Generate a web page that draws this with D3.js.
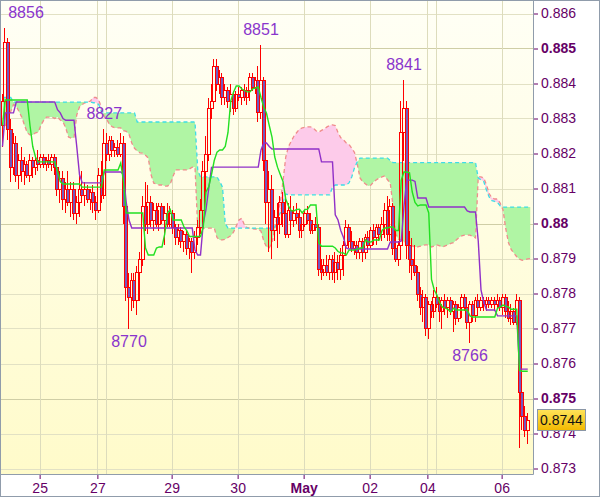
<!DOCTYPE html>
<html><head><meta charset="utf-8">
<script src="https://cdn.jsdelivr.net/npm/d3@7"></script>
<style>html,body{margin:0;padding:0;background:#fff;}svg{display:block;}</style>
</head><body>
<svg id="c" width="600" height="497"></svg>
<script>
// prices in pips (8856 = 0.8856), one entry per hourly candle
const opens = [
8828,8835,8852,8827,8816,8823,8814,8818,8815,8817,
8814,8818,8816,8818,8817,8819,8817,8818,8817,8819,
8816,8810,8813,8807,8810,8806,8810,8803,8806,8810,
8808,8810,8807,8809,8806,8804,8814,8808,8823,8820,
8824,8821,8822,8820,8823,8805,8782,8779,8784,8778,
8786,8790,8805,8800,8806,8801,8804,8800,8805,8801,
8803,8800,8803,8799,8796,8798,8795,8797,8793,8795,
8792,8796,8799,8804,8815,8820,8833,8835,8845,8840,
8842,8836,8838,8835,8837,8833,8837,8836,8838,8836,
8838,8842,8839,8841,8832,8841,8818,8806,8810,8798,
8802,8800,8806,8803,8797,8804,8801,8803,8802,8798,
8800,8803,8801,8798,8800,8799,8787,8786,8788,8786,
8790,8786,8789,8787,8791,8794,8799,8795,8793,8794,
8792,8795,8792,8796,8794,8798,8796,8799,8797,8800,
8804,8797,8805,8793,8790,8794,8826,8833,8794,8790,
8788,8786,8780,8776,8779,8770,8777,8775,8779,8777,
8775,8778,8776,8778,8775,8777,8773,8776,8779,8776,
8772,8777,8774,8778,8776,8778,8777,8778,8777,8778,
8777,8778,8776,8779,8775,8773,8775,8772,8778,8752,
8745,8741];
const highs = [
8837,8856,8853,8830,8826,8825,8820,8822,8819,8818,
8820,8819,8819,8821,8820,8820,8819,8820,8820,8820,
8817,8815,8815,8812,8815,8812,8812,8808,8814,8815,
8812,8811,8810,8811,8808,8816,8818,8827,8826,8825,
8825,8823,8824,8826,8825,8808,8786,8786,8786,8788,
8792,8808,8812,8811,8808,8806,8806,8806,8806,8805,
8806,8805,8804,8800,8800,8799,8798,8798,8796,8796,
8798,8801,8807,8818,8825,8836,8840,8847,8847,8844,
8843,8840,8839,8840,8838,8838,8839,8839,8840,8839,
8843,8843,8842,8845,8851,8842,8820,8815,8814,8804,
8806,8808,8809,8808,8806,8808,8805,8806,8804,8802,
8804,8805,8803,8801,8802,8800,8790,8790,8791,8791,
8791,8792,8791,8793,8795,8801,8800,8798,8795,8795,
8796,8796,8797,8798,8799,8800,8800,8800,8802,8806,
8808,8807,8806,8798,8795,8835,8841,8835,8798,8796,
8794,8788,8782,8781,8780,8778,8778,8781,8782,8779,
8779,8780,8779,8779,8778,8778,8777,8780,8780,8779,
8778,8778,8779,8780,8779,8779,8779,8779,8779,8779,
8780,8779,8780,8780,8778,8777,8776,8780,8779,8755,
8748,8746];
const lows = [
8822,8830,8824,8812,8814,8812,8810,8812,8811,8813,
8812,8813,8814,8815,8816,8816,8815,8816,8815,8814,
8808,8806,8804,8803,8805,8802,8801,8800,8802,8806,
8805,8806,8804,8803,8801,8803,8806,8807,8818,8818,
8819,8819,8819,8819,8800,8778,8770,8775,8776,8774,
8778,8788,8798,8797,8799,8798,8799,8798,8800,8794,
8799,8799,8797,8794,8794,8793,8792,8791,8790,8786,
8790,8794,8797,8800,8808,8818,8830,8833,8838,8837,
8834,8834,8833,8832,8831,8832,8835,8834,8835,8834,
8835,8838,8837,8829,8830,8815,8800,8792,8790,8795,
8793,8797,8799,8796,8796,8800,8799,8800,8796,8796,
8799,8800,8797,8797,8798,8785,8784,8785,8785,8784,
8784,8783,8784,8784,8785,8792,8793,8792,8791,8790,
8790,8789,8790,8792,8793,8794,8794,8795,8795,8796,
8795,8795,8791,8789,8788,8792,8818,8790,8786,8784,
8785,8778,8774,8772,8768,8767,8773,8773,8776,8772,
8770,8774,8773,8774,8769,8771,8772,8773,8775,8770,
8766,8772,8772,8774,8775,8775,8775,8776,8776,8775,
8776,8775,8774,8773,8772,8771,8771,8771,8736,8741,
8739,8737];
const closes = [
8835,8852,8827,8816,8823,8814,8818,8815,8817,8814,
8818,8816,8818,8817,8819,8817,8818,8817,8819,8816,
8810,8813,8807,8810,8806,8810,8803,8806,8810,8808,
8810,8807,8809,8806,8804,8814,8808,8823,8820,8824,
8821,8822,8820,8823,8805,8782,8779,8784,8778,8786,
8790,8805,8800,8806,8801,8804,8800,8805,8801,8803,
8800,8803,8799,8796,8798,8795,8797,8793,8795,8792,
8796,8799,8804,8815,8820,8833,8835,8845,8840,8842,
8836,8838,8835,8837,8833,8837,8836,8838,8836,8838,
8842,8839,8841,8832,8841,8818,8806,8810,8798,8802,
8800,8806,8803,8797,8804,8801,8803,8802,8798,8800,
8803,8801,8798,8800,8799,8787,8786,8788,8786,8790,
8786,8789,8787,8791,8794,8799,8795,8793,8794,8792,
8795,8792,8796,8794,8798,8796,8799,8797,8800,8804,
8797,8805,8793,8790,8794,8826,8833,8794,8790,8788,
8786,8780,8776,8779,8770,8777,8775,8779,8777,8775,
8778,8776,8778,8775,8777,8773,8776,8779,8776,8772,
8777,8774,8778,8776,8778,8777,8778,8777,8778,8777,
8778,8776,8779,8775,8773,8775,8772,8778,8752,8745,
8741,8744];
// Tenkan-sen (green)
const tenkan = [
8828,8835.3,8835.3,8835.3,8835.3,8835.3,8835.3,8835.3,8835.3,8835.3,
8828,8822,8819,8817.6,8817.6,8817.6,8817.6,8817.6,8817.6,8817.6,
8815,8812,8811.3,8811.3,8811.3,8811.3,8811.3,8811.3,8811.3,8810.4,
8810.4,8810.4,8810.4,8810.4,8810.4,8810.4,8810.4,8815.3,8815.3,8815.3,
8815.3,8815.3,8815.3,8817.3,8812,8803,8803,8803,8803,8803,
8803,8803,8793,8791,8791,8791,8793,8793.3,8793.3,8797,
8803,8804,8801,8801,8801,8801,8799,8798,8796.3,8796.3,
8796.3,8796.3,8796.3,8799,8809,8810.5,8814,8818,8820.4,8821,
8821,8822,8826,8835,8837.5,8839.3,8839.3,8838.5,8838,8837.6,
8837.6,8838.5,8838.7,8839,8836,8833.3,8831.5,8828,8824.7,8819,
8816.1,8814,8812,8807,8805,8803.6,8803.6,8804,8804.1,8803,
8804,8804.1,8805.3,8805.3,8805.3,8794.5,8793.5,8793.5,8793.5,8793.5,
8793.5,8793,8792,8791.6,8791.6,8791,8792.4,8792.4,8792.4,8792.7,
8793,8793,8795.3,8794.7,8794.7,8795.3,8795.3,8795.3,8798,8798.7,
8798.7,8799,8799,8798,8798,8812.4,8814.7,8814.7,8814.5,8809,
8806,8805,8805.3,8805.3,8805.3,8803,8784,8781,8779.5,8777.3,
8776.1,8775.8,8775.5,8774.7,8775.8,8775.3,8775.3,8775.3,8775.3,8775.3,
8773.6,8773.3,8773.3,8773.3,8773.3,8773.3,8773.3,8773.3,8773.3,8773.3,
8775.8,8776.1,8776.7,8776.4,8776.1,8775.5,8775.5,8775.5,8758,8757.8,
8757.8,8757.8];
// Kijun-sen (purple)
const kijun = [
8822,8831.6,8831.6,8831.6,8831.6,8834.7,8834.7,8834.7,8834.7,8834.7,
8834.7,8834.7,8834.7,8834.7,8834.7,8834.7,8834.7,8834.7,8834.7,8834.7,
8832.5,8831.6,8830,8829.5,8829.5,8829.5,8829.5,8822,8814,8811.6,
8811.6,8811.6,8811.6,8811.6,8811.6,8811.6,8811.6,8814.7,8814.7,8814.7,
8814.7,8814.7,8814.7,8814.7,8814,8806,8801,8798.7,8798.7,8798.7,
8798.7,8798.7,8798.7,8798.7,8798.7,8798.7,8798.7,8798.7,8798.7,8798.7,
8798.7,8798.7,8798.7,8798.7,8798.7,8798.7,8798.7,8798.7,8798.7,8798.7,
8792.4,8791,8791,8800,8804,8810,8816,8816.1,8816.1,8816.1,
8816.1,8816.1,8816.1,8816.1,8816.1,8816.1,8816.1,8816.1,8816.1,8816.1,
8816.1,8816.1,8816.1,8816.1,8821,8823,8823,8822,8821.3,8821.3,
8821.3,8821.3,8821.3,8821.3,8821.3,8821.3,8821.3,8821.3,8821.3,8821.3,
8821.3,8821.3,8821.3,8821.3,8821.3,8821.3,8817.6,8817.6,8817.6,8817.6,
8817.6,8802.5,8801,8798,8796,8793,8792.7,8792.7,8792.7,8792.7,
8792.7,8792.7,8792.7,8792.7,8792.7,8792.7,8792.7,8792.7,8792.7,8792.7,
8792.7,8794.7,8794.7,8794.7,8794.7,8795,8805,8812.4,8812.4,8812.4,
8812,8807.3,8807.3,8807.3,8807.3,8804.7,8804.7,8804.7,8804.7,8804.7,
8804.7,8804.7,8804.7,8804.7,8804.7,8804.7,8804.7,8804.7,8804.7,8803.6,
8803.3,8803.3,8803.3,8795,8781,8777.5,8775.3,8775.3,8775.3,8775.3,
8773.6,8773.6,8773.6,8773.6,8773.6,8773.6,8773.6,8773.6,8758.4,8758.4,
8758.4,8758.4];
// Senkou span A (cyan, dashed)
const spanA = [
8836,8836,8836,8836,8834.7,8834.7,8834.7,8834.7,8834.7,8834.7,
8834.7,8834.7,8834.7,8834.7,8834.7,8834.7,8834.7,8834.7,8834.7,8834.7,
8834.7,8834.7,8834.7,8834.7,8834.7,8834.7,8834.7,8834.7,8834.7,8834.7,
8834.7,8834.7,8834.7,8834.5,8834.5,8834,8832,8831.6,8831.6,8831.6,
8831.6,8831.6,8831.6,8831.6,8831.6,8831.6,8831.6,8831.6,8831.6,8829,
8829,8829,8829,8829,8829,8829,8829,8829,8829,8829,
8829,8829,8829,8829,8829,8829,8829,8829,8829,8829,
8829,8815.3,8813.3,8813.3,8813.3,8813.3,8813.3,8813.3,8813.3,8812,
8810.4,8800,8798.7,8798.7,8798.7,8798.7,8798.7,8798.7,8798.7,8798.7,
8798.7,8798.7,8798.7,8798.7,8798.7,8798.7,8798.7,8798.7,8798.7,8799,
8801.6,8803,8806,8808.4,8808.2,8808.2,8808.2,8808.2,8808.2,8808.2,
8808.2,8808.2,8808.2,8808.2,8808.2,8808.2,8808.2,8808.2,8808.2,8808.2,
8810.4,8811,8811,8811,8811,8811,8811.6,8813.3,8815.9,8817.6,
8818.7,8818.7,8818.7,8818.7,8818.7,8818.7,8818.7,8818.7,8818.7,8818.7,
8818.7,8818,8817.4,8817.4,8817.4,8817.4,8817.4,8817.4,8817.4,8817.4,
8817.4,8817.4,8817.4,8817.4,8817.4,8817.4,8817.4,8817.4,8817.4,8817.4,
8817.4,8817.4,8817.4,8817.4,8817.4,8817.4,8817.4,8817.4,8817.4,8817.4,
8817.4,8817.4,8817.4,8813,8812.5,8812,8809.5,8807.5,8806.5,8806.3,
8806,8805,8804.7,8804.7,8804.7,8804.7,8804.7,8804.7,8804.7,8804.7,
8804.7,8804.7,8804.7];
// Senkou span B (salmon, dashed)
const spanB = [
8826,8828,8830,8832,8834,8833.5,8832,8830.4,8828.1,8825.9,
8825.3,8825.3,8825.9,8826.1,8828.1,8829.5,8830.4,8830.4,8830.4,8830,
8830.4,8829.6,8829,8827.3,8824.7,8824.4,8824.5,8831,8833.3,8834,
8834.5,8834.7,8835,8836,8836,8835.3,8833,8830.5,8829.6,8828.2,
8827.6,8827.3,8827.3,8827.3,8826.5,8826.3,8825.5,8823,8821.5,8820.7,
8820.2,8820.1,8819.5,8818.7,8814,8811.5,8811.3,8811,8811,8810.7,
8810.7,8811.3,8813.5,8815.3,8815.3,8815.3,8815.3,8815.3,8815.6,8816.1,
8816.1,8798.7,8798.7,8798.7,8798.7,8798.7,8798.7,8798.7,8796,8795.3,
8795.3,8795.5,8796,8796.5,8797.5,8799.3,8801,8801.5,8799.5,8798.8,
8798.7,8798.5,8798.4,8798.4,8797.8,8795,8793.3,8793.1,8794.4,8798.5,
8802.5,8806,8812,8819,8822,8823.5,8825,8826,8827,8827.3,
8827.5,8827.6,8827.6,8827.3,8826.5,8826.1,8826.6,8827,8827.6,8828,
8828.2,8828,8826,8824.5,8823.9,8823,8822.6,8821.5,8820.3,8817,
8813,8811.9,8811.3,8810.7,8811,8811.9,8812.5,8813,8813.3,8813.6,
8812.5,8811.6,8805,8797,8795.5,8795.3,8794.8,8794.6,8794.4,8793.6,
8793.3,8793.3,8793.5,8793.8,8793.9,8793.9,8793.3,8793.6,8793.9,8793.6,
8793.3,8793.6,8793.9,8794.3,8794.5,8795.3,8796,8796.5,8796.7,8796.7,
8796.7,8796.3,8795.9,8813.3,8813.3,8813,8811,8808.5,8807.3,8807,
8807,8805.8,8803.9,8798.5,8794.5,8792.5,8791.5,8790.5,8789.8,8789.5,
8789.6,8789.9,8790];

const yTicks = [0.873,0.874,0.875,0.876,0.877,0.878,0.879,0.880,0.881,0.882,0.883,0.884,0.885,0.886];
const xTickIdx = [13.5,34.5,61.5,85.5,109.5,133.5,154.5,181.5];
const xTickLabels = ["25","27","29","30","May","02","04","06"];
const xGridIdx = [13.5,34.5,37.5,61.5,85.5,109.5,133.5,154.5,157.5,181.5];
const annIdx = [1,37,94,146,46,170];
const annVal = [8856,8827,8851,8841,8770,8766];
const annType = ["high","high","high","high","low","low"];
const lastPrice = 0.8744;

const W = 600, H = 497, PR = 533, PB = 474;
const FONT = "'Liberation Sans', Arial, sans-serif";
const pv = p => p / 10000;
const svg = d3.select("#c");
const x = d3.scaleLinear().domain([0, 191]).range([2.5, 527.75]);
const y = d3.scaleLinear().domain([0.873, 0.886]).range([468.5, 13.5]);

const defs = svg.append("defs");
const g1 = defs.append("linearGradient").attr("id","bg").attr("x1",0).attr("y1",0).attr("x2",0).attr("y2",1);
g1.append("stop").attr("offset","0%").attr("stop-color","#fffff6");
g1.append("stop").attr("offset","100%").attr("stop-color","#fffbca");
const g2 = defs.append("linearGradient").attr("id","gold").attr("x1",0).attr("y1",0).attr("x2",0).attr("y2",1);
g2.append("stop").attr("offset","0%").attr("stop-color","#ffe45a");
g2.append("stop").attr("offset","100%").attr("stop-color","#f2b800");
defs.append("clipPath").attr("id","plotClip").append("rect").attr("x",0).attr("y",0).attr("width",PR).attr("height",PB);

const areaBelowA = d3.area().x((d,i)=>x(i)).y0((d,i)=>y(pv(spanA[i]))).y1(PB);
const areaAboveA = d3.area().x((d,i)=>x(i)).y0(0).y1((d,i)=>y(pv(spanA[i])));
defs.append("clipPath").attr("id","clipBelowA").append("path").attr("d", areaBelowA(spanA));
defs.append("clipPath").attr("id","clipAboveA").append("path").attr("d", areaAboveA(spanA));

svg.append("rect").attr("x",0).attr("y",0).attr("width",W).attr("height",H).attr("fill","#fff");
svg.append("rect").attr("x",0).attr("y",0).attr("width",PR).attr("height",PB).attr("fill","url(#bg)");

const plot = svg.append("g").attr("clip-path","url(#plotClip)");
// grid
plot.append("g").selectAll("line").data(yTicks).join("line")
  .attr("x1",0).attr("x2",PR)
  .attr("y1",d=>Math.round(y(d))+0.5).attr("y2",d=>Math.round(y(d))+0.5)
  .attr("stroke", d => (Math.round(d*1000) % 5 === 0) ? "#cfcea6" : "#e2e1c4")
  .attr("stroke-width",1);
plot.append("g").selectAll("line").data(xGridIdx).join("line")
  .attr("y1",0).attr("y2",PB)
  .attr("x1",d=>Math.round(x(d))+0.5).attr("x2",d=>Math.round(x(d))+0.5)
  .attr("stroke","#dddcbc").attr("stroke-width",1);

// cloud
const between = d3.area().x((d,i)=>x(i)).y0((d,i)=>y(pv(spanA[i]))).y1((d,i)=>y(pv(spanB[i])));
plot.append("path").attr("d", between(spanA)).attr("fill","#b0f5a4").attr("clip-path","url(#clipBelowA)");
plot.append("path").attr("d", between(spanA)).attr("fill","#fdcbea").attr("clip-path","url(#clipAboveA)");
const lineOf = arr => d3.line().x((d,i)=>x(i)).y(d=>y(pv(d)))(arr);
plot.append("path").attr("d", lineOf(spanB)).attr("fill","none").attr("stroke","#f08c8c").attr("stroke-width",1.3).attr("stroke-dasharray","4,3");
plot.append("path").attr("d", lineOf(spanA)).attr("fill","none").attr("stroke","#3ddde6").attr("stroke-width",1.3).attr("stroke-dasharray","4,3");

// candles
const cg = plot.append("g").attr("shape-rendering","crispEdges");
const idx = d3.range(closes.length);
idx.forEach(i => {
  const cx = Math.round(x(i));
  const o = pv(opens[i]), c = pv(closes[i]), h = pv(highs[i]), l = pv(lows[i]);
  const top = Math.max(o,c), bot = Math.min(o,c);
  cg.append("line").attr("x1",cx-0.5).attr("x2",cx-0.5).attr("y1",y(h)).attr("y2",y(top)).attr("stroke","#ff0000");
  cg.append("line").attr("x1",cx-0.5).attr("x2",cx-0.5).attr("y1",y(bot)).attr("y2",y(l)).attr("stroke","#ff0000");
  const yt = Math.round(y(top)) + 0.5, yb = Math.round(y(bot)) + 0.5;
  cg.append("rect").attr("x",cx-2.5+0.5).attr("y",yt).attr("width",3).attr("height",Math.max(1,yb-yt))
    .attr("fill", c < o ? "#7458bd" : "none").attr("stroke","#ff0000").attr("stroke-width",1);
});

// tenkan / kijun
plot.append("path").attr("d", lineOf(kijun)).attr("fill","none").attr("stroke","#9030c8").attr("stroke-width",1.4);
plot.append("path").attr("d", lineOf(tenkan)).attr("fill","none").attr("stroke","#22e022").attr("stroke-width",1.4);

// annotations
plot.append("g").selectAll("text").data(annIdx).join("text")
  .attr("x",(d,k)=>Math.max(x(d),26))
  .attr("y",(d,k)=> annType[k]==="high" ? y(pv(annVal[k]))-10 : y(pv(annVal[k]))+18)
  .attr("text-anchor","middle").attr("font-family",FONT).attr("font-size",16)
  .attr("fill","#8a35cc").text((d,k)=>String(annVal[k]));

// axes
const axR = svg.append("g").attr("transform",`translate(${PR},0)`)
  .call(d3.axisRight(y).tickValues(yTicks).tickSize(5).tickPadding(3)
    .tickFormat(d => String(+d.toFixed(3))));
axR.select(".domain").remove();
axR.selectAll(".tick line").attr("stroke","#660066");
axR.selectAll(".tick text").attr("font-family",FONT).attr("font-size",14).attr("fill","#660066")
  .attr("font-weight", d => (Math.round(d*1000) % 5 === 0) ? "bold" : "normal");

const axB = svg.append("g").attr("transform",`translate(0,${PB})`)
  .call(d3.axisBottom(x).tickValues(xTickIdx).tickSize(5).tickPadding(4)
    .tickFormat((d,k)=>xTickLabels[k]));
axB.select(".domain").remove();
axB.selectAll(".tick line").attr("stroke","#660066");
axB.selectAll(".tick text").attr("font-family",FONT).attr("font-size",14).attr("fill","#660066")
  .attr("font-weight",(d,k)=> xTickLabels[k]==="May" ? "bold" : "normal");

svg.append("line").attr("x1",PR+0.5).attr("x2",PR+0.5).attr("y1",0).attr("y2",PB+0.5).attr("stroke","#909cab");
svg.append("line").attr("x1",0).attr("x2",PR+0.5).attr("y1",PB+0.5).attr("y2",PB+0.5).attr("stroke","#909cab");

// last price box
const ly = y(lastPrice);
svg.append("rect").attr("x",537.5).attr("y",Math.round(ly)-10.5).attr("width",48).attr("height",21)
  .attr("fill","url(#gold)").attr("stroke","#8a96a6");
svg.append("text").attr("x",540).attr("y",ly).attr("dy","0.36em").attr("font-family",FONT).attr("font-size",14)
  .attr("fill","#111").text(lastPrice.toFixed(4));

// frame
svg.append("rect").attr("x",0.5).attr("y",0.5).attr("width",W-1).attr("height",H-1).attr("fill","none").attr("stroke","#909cab");
</script>
</body></html>
